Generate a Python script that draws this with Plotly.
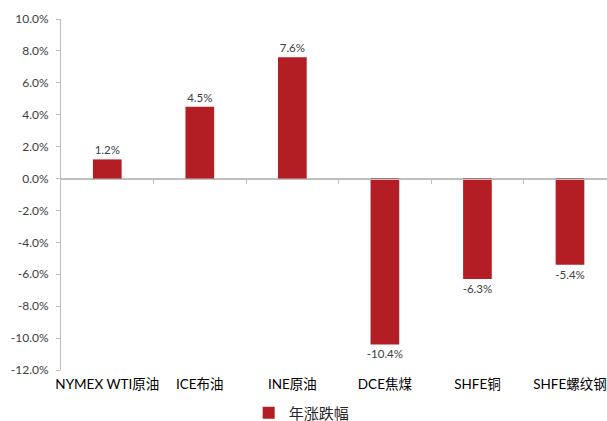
import plotly.graph_objects as go

categories = ["NYMEX WTI原油", "ICE布油", "INE原油", "DCE焦煤", "SHFE铜", "SHFE螺纹钢"]
values = [1.2, 4.5, 7.6, -10.4, -6.3, -5.4]
series_name = "年涨跌幅"
y_ticks = [-12, -10, -8, -6, -4, -2, 0, 2, 4, 6, 8, 10]

BAR = "#B31E25"
AX = "#BFBFBF"
FONT = "Lato, 'Noto Sans CJK SC', sans-serif"

y_min, y_max = -12, 10
x_range = [-0.5, 5.4]
zero_pos = (0 - y_min) / (y_max - y_min)

fig = go.Figure()
fig.add_trace(go.Bar(
    x=categories, y=values, name=series_name,
    marker=dict(color=BAR, line=dict(width=0)),
    width=0.31,
    texttemplate="%{y:.1f}%", textposition="outside",
    textfont=dict(size=11.5, color="#404040", family=FONT),
    constraintext="none",
    cliponaxis=False,
))
# empty helper trace so the category axis at y = 0 is drawn
fig.add_trace(go.Scatter(x=[], y=[], xaxis="x2", yaxis="y", showlegend=False,
                         hoverinfo="skip", mode="markers"))

fig.update_layout(
    width=607, height=421,
    margin=dict(l=61, r=0, t=19, b=51, autoexpand=False),
    paper_bgcolor="white", plot_bgcolor="white",
    font=dict(family=FONT, color="#000000"),
    showlegend=True,
    legend=dict(orientation="h", xref="container", x=0.497, xanchor="center",
                y=-0.1225, yanchor="middle", font=dict(size=15, color="#262626")),
    xaxis=dict(type="category", range=x_range, domain=[0, 1], showline=False, ticks="",
               showgrid=False, zeroline=False, tickangle=0, automargin=False,
               ticklabelstandoff=4,
               tickfont=dict(size=13.5, color="#000000")),
    xaxis2=dict(type="linear", overlaying="x", anchor="free", position=zero_pos,
                side="bottom", range=x_range, domain=[0, 1], showline=True, linecolor=AX,
                linewidth=1, ticks="outside", ticklen=4, tickcolor=AX, automargin=False,
                tickvals=[0.5, 1.5, 2.5, 3.5, 4.5], showticklabels=False,
                showgrid=False, zeroline=False),
    yaxis=dict(range=[y_min, y_max], domain=[0, 1], tickvals=y_ticks,
               ticktext=[f"{v:.1f}%" for v in y_ticks], automargin=False,
               showline=True, linecolor=AX, linewidth=1,
               ticks="outside", ticklen=4, tickcolor=AX, ticklabelstandoff=5,
               showgrid=False, zeroline=True, zerolinecolor=AX, zerolinewidth=1,
               tickfont=dict(size=12, color="#404040")),
)

fig.write_html("out.html", config={"displayModeBar": False},
               post_script="document.body.style.margin='0';")
